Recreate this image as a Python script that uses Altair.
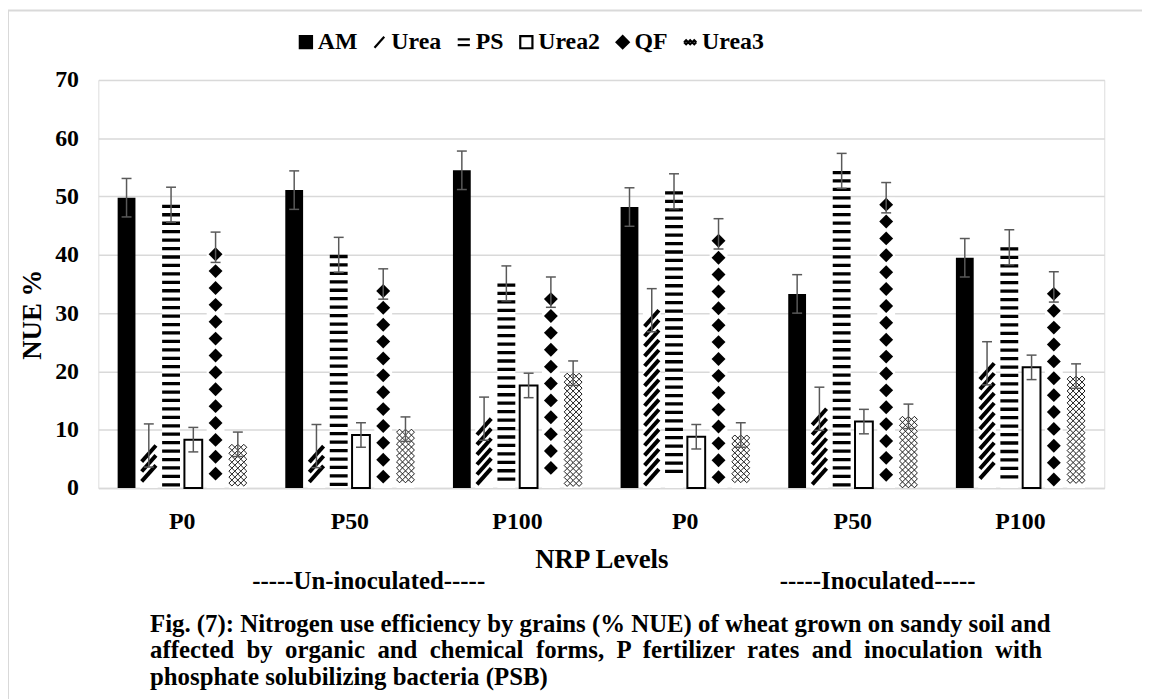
import altair as alt
import pandas as pd

# ---------------- data ----------------
levels = ["P0", "P50", "P100", "P0", "P50", "P100"]
inoculation = ["Un-inoculated"] * 3 + ["Inoculated"] * 3
series = ["AM", "Urea", "PS", "Urea2", "QF", "Urea3"]
am = [49.8, 51.1, 54.5, 48.2, 33.3, 39.5]
urea = [7.3, 7.2, 11.9, 30.5, 13.6, 21.4]
ps = [48.6, 40.0, 35.1, 50.9, 54.4, 41.3]
urea2 = [8.3, 9.1, 17.6, 8.8, 11.4, 20.7]
qf = [41.3, 35.0, 33.6, 43.6, 49.8, 34.5]
urea3 = [7.5, 10.1, 19.7, 9.1, 12.3, 19.2]
errors = [3.3, 3.7, 3.0, 2.1, 2.6, 2.1]
y_ticks = [0, 10, 20, 30, 40, 50, 60, 70]
group_notes = ["-----Un-inoculated-----", "-----Inoculated-----"]
caption = [
    "Fig. (7): Nitrogen use efficiency by grains (% NUE) of wheat grown on sandy soil and",
    "affected by organic and chemical forms, P fertilizer rates and inoculation with",
    "phosphate solubilizing bacteria (PSB)",
]

values = {"AM": am, "Urea": urea, "PS": ps, "Urea2": urea2, "QF": qf, "Urea3": urea3}

# ---------------- layout / style ----------------
W, H = 1013, 411
YMAX = 70
PPU = H / YMAX  # pixels per value unit
FONT = "Liberation Serif"
GRID = "#d9d9d9"
ERR = "#595959"

keys = [f"{i}|{l}" for i, l in zip(inoculation, levels)]

rows = []
for si, s in enumerate(series):
    for g, k in enumerate(keys):
        v = values[s][g]
        rows.append(dict(key=k, series=s, value=v, lo=v - errors[si], hi=v + errors[si]))
df = pd.DataFrame(rows)

caps = pd.concat([
    df[["key", "series", "lo"]].rename(columns={"lo": "yc"}),
    df[["key", "series", "hi"]].rename(columns={"hi": "yc"}),
])

# pattern fills (pixel-based pitch like Excel hatch patterns)
# series: (half extent px, pitch px, symbol size, stroke width)
pattern_style = {
    "Urea": (8.1, 10.0, 324, 4.0),
    "PS": (5.9, 17.0, 324, 3.3),
    "QF": (7.0, 17.0, 196, 0.0),
    "Urea3": (3.0, 6.0, 324, 0.9),
}
prow = []
for _, r in df.iterrows():
    if r["series"] not in pattern_style:
        continue
    half, pitch, sz, sw = pattern_style[r["series"]]
    c = r["value"] - half / PPU
    while c - half / PPU >= -0.05:
        prow.append(dict(key=r["key"], series=r["series"], yc=c, sz=sz, sw=sw))
        c -= pitch / PPU
pat = pd.DataFrame(prow)

a = 0.333
lattice = (
    f"M-1,0L-0.667,-{a}L-0.333,0L0,-{a}L0.333,0L0.667,-{a}L1,0"
    f"M-1,0L-0.667,{a}L-0.333,0L0,{a}L0.333,0L0.667,{a}L1,0"
)
shapes = [
    "M-1,-1H1V1H-1Z",
    "M-0.8,0.9L0.8,-0.9",
    "M-1,-0.47H1M-1,0.47H1",
    "M-1,-1H1V1H-1Z",
    "M0,-1L1,0L0,1L-1,0Z",
    lattice,
]
fills = ["#000000", "#000000", "transparent", "#ffffff", "#000000", "transparent"]

xscale = alt.Scale(domain=keys, paddingInner=0.23, paddingOuter=0.115)
xoff = alt.XOffset("series:N", sort=series,
                   scale=alt.Scale(domain=series, paddingInner=0.2, paddingOuter=0))
yscale = alt.Scale(domain=[0, YMAX], nice=False)

x_axis = alt.Axis(
    title="NRP Levels", labelExpr="split(datum.label, '|')[1]", labelAngle=0,
    labelFont=FONT, labelFontSize=24, labelFontWeight="bold", labelColor="#000",
    labelPadding=22, titleFont=FONT, titleFontSize=27, titleFontWeight="bold",
    titleColor="#000", titlePadding=13, domainColor=GRID, domainWidth=1.5,
    ticks=False, grid=False,
)
y_axis = alt.Axis(
    title="NUE %", values=y_ticks, grid=True, gridColor=GRID, gridWidth=1.5,
    domain=False, ticks=False, labelFont=FONT, labelFontSize=24,
    labelFontWeight="bold", labelColor="#000", labelPadding=20,
    titleFont=FONT, titleFontSize=27, titleFontWeight="bold", titleColor="#000",
    titleX=-66, titleY=236, titleAngle=270, titleAlign="center", titleBaseline="middle",
)

# light border of the chart area (left and top edges are visible in the figure)
one = pd.DataFrame({"a": [0]})
frame_left = alt.Chart(one).mark_rule(color=GRID, strokeWidth=2).encode(
    x=alt.value(-91), y=alt.value(-70), y2=alt.value(640))
frame_top = alt.Chart(one).mark_rule(color=GRID, strokeWidth=2).encode(
    x=alt.value(-91), x2=alt.value(1070), y=alt.value(-70))

bars = alt.Chart(df).mark_bar(strokeWidth=2).encode(
    x=alt.X("key:N", sort=keys, scale=xscale, axis=x_axis),
    xOffset=xoff,
    y=alt.Y("value:Q", scale=yscale, axis=y_axis),
    color=alt.condition("datum.series == 'AM'", alt.value("#000000"), alt.value("#ffffff")),
    stroke=alt.condition("datum.series == 'Urea2'", alt.value("#000000"), alt.value("transparent")),
)

legend = alt.Legend(
    orient="none", legendX=197, legendY=-50, direction="horizontal", title=None,
    labelFont=FONT, labelFontSize=24, labelFontWeight="bold", labelColor="#000",
    symbolSize=150, symbolStrokeWidth=2.2, columnPadding=10, labelOffset=0,
)

patterns = alt.Chart(pat).mark_point(filled=True, opacity=1, strokeCap="butt").encode(
    x=alt.X("key:N", sort=keys, scale=xscale, axis=x_axis),
    xOffset=xoff,
    y=alt.Y("yc:Q", scale=yscale, axis=y_axis),
    shape=alt.Shape("series:N", scale=alt.Scale(domain=series, range=shapes), legend=legend),
    fill=alt.Fill("series:N", scale=alt.Scale(domain=series, range=fills), legend=legend),
    stroke=alt.Stroke("series:N", scale=alt.Scale(domain=series, range=["#000000"] * 6), legend=legend),
    size=alt.Size("sz:Q", scale=None),
    strokeWidth=alt.StrokeWidth("sw:Q", scale=None),
)

rules = alt.Chart(df).mark_rule(color=ERR, strokeWidth=1.5).encode(
    x=alt.X("key:N", sort=keys, scale=xscale, axis=x_axis),
    xOffset=xoff,
    y=alt.Y("lo:Q", scale=yscale, axis=y_axis),
    y2="hi:Q",
)
capmarks = alt.Chart(caps).mark_point(
    shape="M-1,0H1", size=100, color=ERR, strokeWidth=1.5, opacity=1, filled=False
).encode(
    x=alt.X("key:N", sort=keys, scale=xscale, axis=x_axis),
    xOffset=xoff,
    y=alt.Y("yc:Q", scale=yscale, axis=y_axis),
)

notes_df = pd.DataFrame({"key": [keys[1], keys[4]], "t": group_notes})
note_style = dict(font=FONT, fontSize=25, fontWeight="bold", color="#000", baseline="middle")
note1 = alt.Chart(notes_df.iloc[[0]]).mark_text(dx=19, **note_style).encode(
    x=alt.X("key:N", sort=keys, scale=xscale, axis=x_axis),
    y=alt.value(505), text="t:N",
)
note2 = alt.Chart(notes_df.iloc[[1]]).mark_text(dx=25, **note_style).encode(
    x=alt.X("key:N", sort=keys, scale=xscale, axis=x_axis),
    y=alt.value(505), text="t:N",
)

# the printed caption is justified; widen the word gaps of its middle line
cap_lines = [caption[0], caption[1].replace(" ", " \u00a0"), caption[2]]
cap_text = alt.Chart(pd.DataFrame({"t": ["\n".join(cap_lines)]})).mark_text(
    font=FONT, fontSize=25, fontWeight="bold", color="#000", align="left",
    baseline="middle", lineBreak="\n", lineHeight=26.5,
).encode(x=alt.value(52), y=alt.value(548), text="t:N")

chart = alt.layer(frame_left, frame_top, bars, patterns, rules, capmarks,
                  note1, note2, cap_text).properties(
    width=W, height=H,
    padding={"left": 91, "top": 70, "right": 38, "bottom": 210},
    autosize=alt.AutoSizeParams(type="none"),
).configure_view(stroke=None).configure(background="#ffffff")

chart.save("out.html", embed_options={"renderer": "svg", "actions": False})
